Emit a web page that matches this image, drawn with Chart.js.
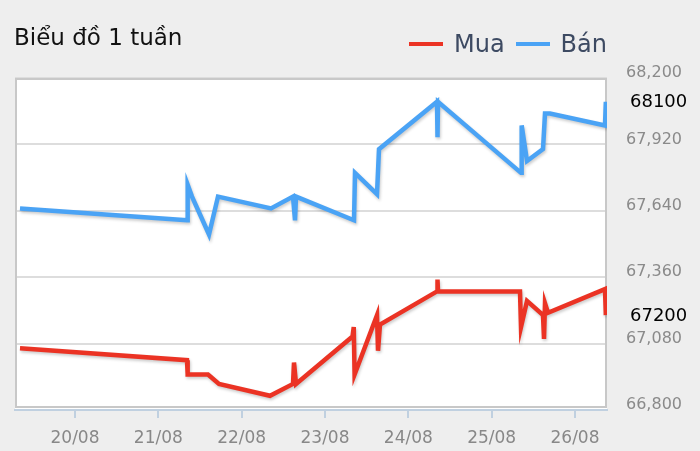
<!DOCTYPE html>
<html>
<head>
<meta charset="utf-8">
<script src="https://cdn.jsdelivr.net/npm/chart.js@4/dist/chart.umd.min.js"></script>
<style>
  html, body { margin: 0; padding: 0; background: #eeeeee; }
  #wrap { position: relative; width: 700px; height: 451px; font-family: "DejaVu Sans", sans-serif; }
  #title { position: absolute; left: 14px; top: 22px; font-size: 23px; color: #111; line-height: 30px; }
  #legend { position: absolute; right: 93px; top: 29px; display: flex; align-items: center; font-size: 24px; color: #3d4a62; line-height: 30px; }
  #legend .item { display: flex; align-items: center; margin-left: 11px; }
  #legend .swatch { width: 34px; height: 4px; margin-right: 11px; }
</style>
</head>
<body>
<div id="wrap">
  <canvas id="myChart"></canvas>
  <div id="title">Biểu đồ 1 tuần</div>
  <div id="legend"></div>
</div>
<script>
// x = day of August (fractional), y = price
var muaX = [19.34, 21.344, 21.352, 21.596, 21.728, 22.34, 22.616, 22.628, 22.652, 23.33, 23.345, 23.355, 23.624, 23.636, 23.66, 24.344, 24.35, 24.356, 25.34, 25.352, 25.424, 25.616, 25.628, 25.64, 25.676, 26.36, 26.37];
var muaY = [67060, 67010, 66950, 66950, 66910, 66860, 66910, 67000, 66910, 67110, 67150, 66950, 67200, 67050, 67160, 67300, 67350, 67300, 67300, 67150, 67260, 67200, 67100, 67250, 67210, 67310, 67200];

var banX = [19.34, 21.344, 21.352, 21.404, 21.608, 21.716, 22.352, 22.616, 22.64, 22.652, 23.348, 23.36, 23.624, 23.648, 24.344, 24.35, 24.356, 25.352, 25.36, 25.424, 25.616, 25.64, 25.70, 26.36, 26.37];
var banY = [67650, 67600, 67750, 67700, 67540, 67700, 67650, 67700, 67600, 67700, 67600, 67800, 67710, 67900, 68100, 67950, 68100, 67800, 68000, 67850, 67900, 68050, 68050, 68000, 68100];

var tickDays = [20, 21, 22, 23, 24, 25, 26];
var tickLabels = ['20/08', '21/08', '22/08', '23/08', '24/08', '25/08', '26/08'];

function toPoints(xs, ys) {
    return xs.map(function (x, i) { return { x: x, y: ys[i] }; });
}

var series = [
    { label: 'Mua', color: '#eb3324', data: toPoints(muaX, muaY) },
    { label: 'Bán', color: '#4aa3f5', data: toPoints(banX, banY) }
];

// legend in html
var legend = document.getElementById('legend');
series.forEach(function (s) {
    var item = document.createElement('div');
    item.className = 'item';
    item.innerHTML = '<span class="swatch" style="background:' + s.color + '"></span>' + s.label;
    legend.appendChild(item);
});

// white plot box with grey border
var plotBox = {
    id: 'plotBox',
    beforeDraw: function (chart) {
        var a = chart.chartArea, c = chart.ctx;
        c.save();
        c.fillStyle = '#ffffff';
        c.fillRect(a.left, a.top, a.right - a.left, a.bottom - a.top);
        c.restore();
    },
    beforeDatasetsDraw: function (chart) {
        var a = chart.chartArea, c = chart.ctx;
        c.save();
        c.strokeStyle = '#c8c8c8';
        c.lineWidth = 2;
        c.strokeRect(a.left + 1, a.top + 1, a.right - a.left - 2, a.bottom - a.top - 4);
        c.restore();
    }
};

// soft shadow under the lines
var lineShadow = {
    id: 'lineShadow',
    beforeDatasetDraw: function (chart) {
        var c = chart.ctx;
        c.save();
        c.shadowColor = 'rgba(0,0,0,0.2)';
        c.shadowOffsetX = 1;
        c.shadowOffsetY = 2;
        c.shadowBlur = 3;
    },
    afterDatasetDraw: function (chart) {
        chart.ctx.restore();
    }
};

// last value labels on the right
var lastValues = {
    id: 'lastValues',
    afterDraw: function (chart) {
        var c = chart.ctx, yScale = chart.scales.y;
        c.save();
        c.font = '18px "DejaVu Sans"';
        c.fillStyle = '#000';
        c.textBaseline = 'middle';
        chart.data.datasets.forEach(function (ds) {
            var last = ds.data[ds.data.length - 1].y;
            c.fillText(String(last), chart.chartArea.right + 23, yScale.getPixelForValue(last) + 1);
        });
        c.restore();
    }
};

var ctx = document.getElementById('myChart').getContext('2d');

var chart = new Chart(ctx, {
    type: 'line',
    data: {
        datasets: series.map(function (s) {
            return {
                label: s.label,
                data: s.data,
                borderColor: s.color,
                backgroundColor: s.color,
                borderWidth: 4.5,
                pointRadius: 0,
                tension: 0,
                fill: false
            };
        })
    },
    plugins: [plotBox, lineShadow, lastValues],
    options: {
        responsive: true,
        maintainAspectRatio: false,
        animation: false,
        layout: { padding: { top: 78, left: 15, right: 0, bottom: 0 } },
        plugins: {
            legend: { display: false },
            title: { display: false },
            tooltip: { enabled: false }
        },
        scales: {
            x: {
                type: 'linear',
                min: 19.28,
                max: 26.384,
                afterFit: function (scale) { scale.height = 41; },
                afterBuildTicks: function (scale) {
                    scale.ticks = tickDays.map(function (d) { return { value: d }; });
                },
                grid: {
                    drawOnChartArea: false,
                    drawTicks: true,
                    tickLength: 8,
                    color: '#c0d0e0',
                    lineWidth: 2
                },
                border: { display: true, color: '#c0d0e0', width: 2 },
                ticks: {
                    color: '#888888',
                    font: { family: 'DejaVu Sans', size: 17 },
                    padding: 10,
                    maxRotation: 0,
                    autoSkip: false,
                    callback: function (value) {
                        var i = tickDays.indexOf(value);
                        return i >= 0 ? tickLabels[i] : '';
                    }
                }
            },
            y: {
                position: 'right',
                min: 66800,
                max: 68200,
                afterFit: function (scale) { scale.width = 93; },
                grid: {
                    color: '#dddddd',
                    lineWidth: 2,
                    drawTicks: false
                },
                border: { display: false },
                ticks: {
                    stepSize: 280,
                    color: '#8a8a8a',
                    font: { family: 'DejaVu Sans', size: 16 },
                    padding: 19,
                    labelOffset: -5,
                    callback: function (value) { return value.toLocaleString('en-US'); }
                }
            }
        }
    }
});
</script>
</body>
</html>
